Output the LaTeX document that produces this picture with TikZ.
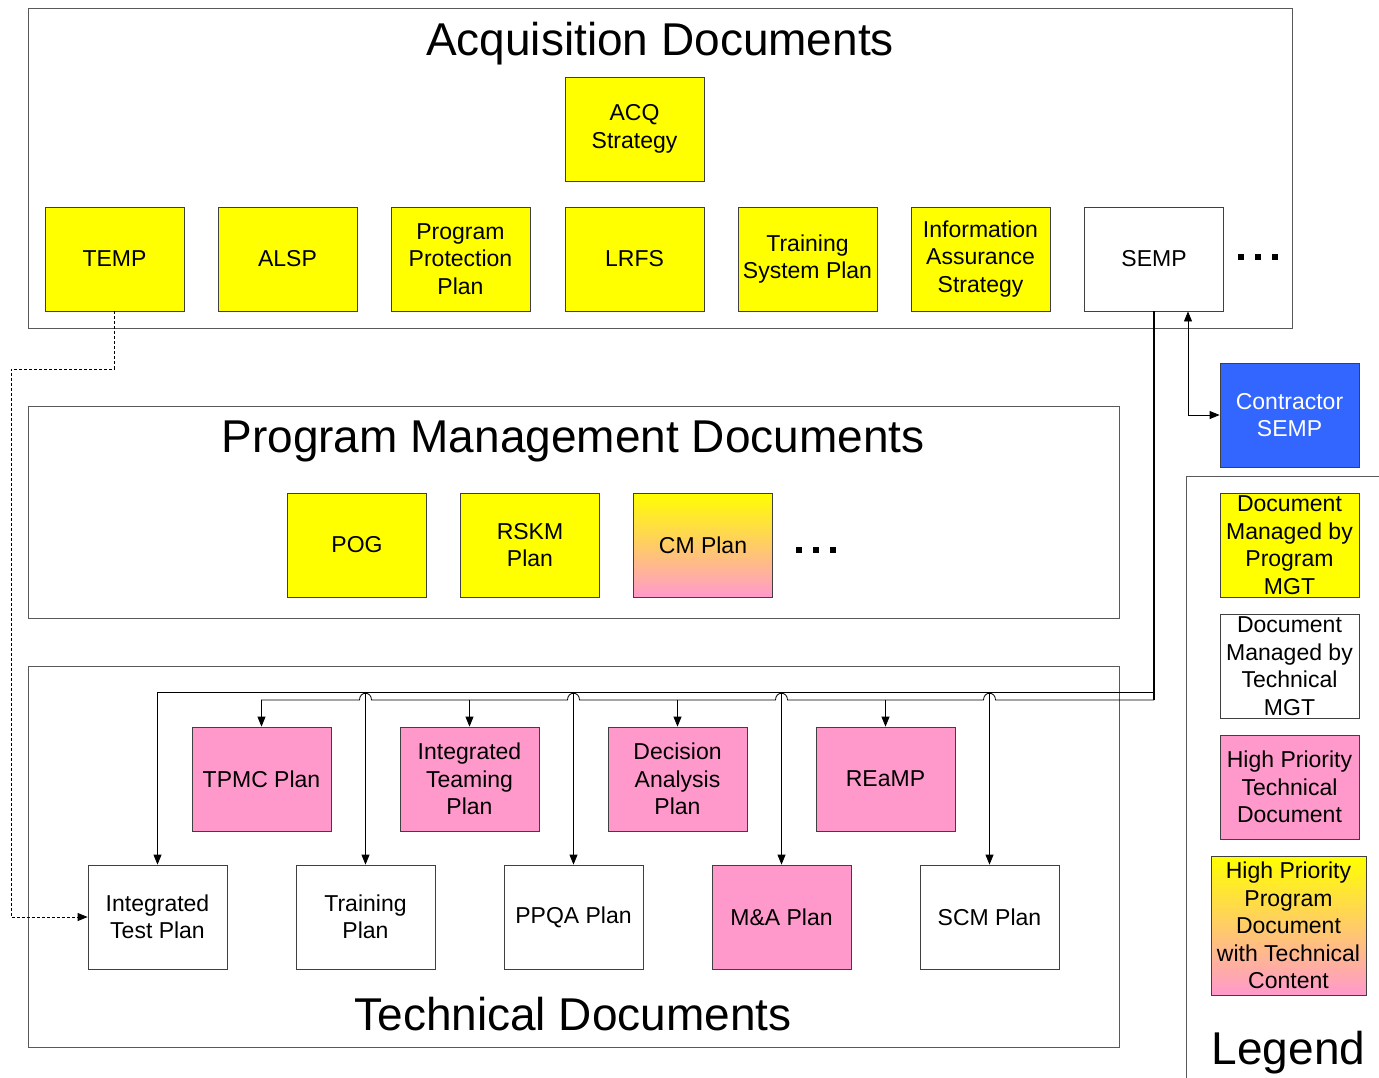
\documentclass[tikz,border=0pt]{standalone}
\usepackage{fontspec}
\setmainfont{Liberation Sans}
\usepackage{tikz}
\usetikzlibrary{arrows.meta, positioning, calc}
\definecolor{docyellow}{RGB}{255,255,0}
\definecolor{docpink}{RGB}{255,153,204}
\definecolor{contractorblue}{RGB}{51,102,255}

\tikzset{
    doc/.style={draw=black!75, line width=0.8pt, minimum width=139pt, minimum height=104pt,
        inner sep=1pt, align=center, font=\fontsize{23}{27.5}\selectfont},
    progdoc/.style={doc, fill=docyellow},
    techdoc/.style={doc, fill=white},
    hidoc/.style={doc, fill=docpink},
    mixdoc/.style={doc, top color=docyellow, bottom color=docpink},
    group/.style={draw=black!65, line width=0.8pt},
    grouptitle/.style={anchor=base, font=\fontsize{46}{50}\selectfont},
    arr/.style={-{Triangle[length=10pt,width=8pt]}, line width=0.8pt}
}

\begin{document}
\begin{tikzpicture}[x=1pt, y=-1pt]
    \useasboundingbox (0,0) rectangle (1379,1077);

    % Acquisition documents
    \draw[group] (28,8) rectangle (1292,328);
    \node[grouptitle] (acqtitle) at (660,55) {Acquisition Documents};
    \node[progdoc] (acq) at (634.5,129) {ACQ\\Strategy};
    \node[progdoc] (temp) at (114.5,259) {TEMP};
    \node[progdoc] (alsp) at (287.5,259) {ALSP};
    \node[progdoc] (ppp) at (460.5,259) {Program\\Protection\\Plan};
    \node[progdoc] (lrfs) at (634.5,259) {LRFS};
    \node[progdoc] (tsp) at (807.5,259) {Training\\System Plan};
    \node[progdoc] (ias) at (980.5,259) {Information\\Assurance\\Strategy};
    \node[techdoc] (semp) at (1154,259) {SEMP};
    \foreach \x in {1241,1258,1275} {
        \fill (\x-3,254) rectangle (\x+3,260);
    }

    % Program management documents
    \draw[group] (28,406) rectangle (1119,618);
    \node[grouptitle] (pmtitle) at (573,452) {Program Management Documents};
    \node[progdoc] (pog) at (357,545) {POG};
    \node[progdoc] (rskm) at (530,545) {RSKM\\Plan};
    \node[mixdoc] (cm) at (703,545) {CM Plan};
    \foreach \x in {799,816,833} {
        \fill (\x-3,547) rectangle (\x+3,553);
    }

    % Technical documents
    \draw[group] (28,666) rectangle (1119,1047);
    \node[grouptitle] (techtitle) at (573,1030) {Technical Documents};
    \node[hidoc] (tpmc) at (261.5,779) {TPMC Plan};
    \node[hidoc] (itm) at (469.5,779) {Integrated\\Teaming\\Plan};
    \node[hidoc] (dap) at (677.5,779) {Decision\\Analysis\\Plan};
    \node[hidoc] (reamp) at (885.5,779) {REaMP};
    \node[techdoc] (itp) at (157.5,917) {Integrated\\Test Plan};
    \node[techdoc] (trp) at (365.5,917) {Training\\Plan};
    \node[techdoc] (ppqa) at (573.5,917) {PPQA Plan};
    \node[hidoc] (ma) at (781.5,917) {M\&A Plan};
    \node[techdoc] (scm) at (989.5,917) {SCM Plan};

    % Contractor SEMP
    \node[doc, fill=contractorblue, text=white] (csemp) at (1289.5,415) {Contractor\\SEMP};

    % Legend
    \draw[group] (1390,476) -- (1186,476) -- (1186,1090);
    \node[progdoc] (lgprog) at (1289.5,545) {Document\\Managed by\\Program\\MGT};
    \node[techdoc] (lgtech) at (1289.5,666) {Document\\Managed by\\Technical\\MGT};
    \node[hidoc] (lghi) at (1289.5,787) {High Priority\\Technical\\Document};
    \node[mixdoc, minimum width=155pt, minimum height=139pt] (lgmix) at (1288.5,925.5)
        {High Priority\\Program\\Document\\with Technical\\Content};
    \node[grouptitle] (lgtitle) at (1288.5,1064) {Legend};

    % connectors
    \coordinate (busout) at (1154,692);
    \coordinate (busin) at (1154,700);
    \draw[line width=2pt] (semp.south) -- (busin);
    \draw[arr] (busout) -- (itp.north |- busout) -- (itp.north);
    \foreach \t in {trp,ppqa,ma,scm} {
        \draw[arr] (\t.north |- busout) -- (\t.north);
    }
    \draw[arr] (busin) foreach \x in {989.5,781.5,573.5,365.5} {
        -- (\x+6,700) .. controls (\x+6,691) and (\x-6,691) .. (\x-6,700)
    } -- (tpmc.north |- busin) -- (tpmc.north);
    \foreach \t in {itm,dap,reamp} {
        \draw[arr] (\t.north |- busin) -- (\t.north);
    }
    \draw[arr, dash pattern=on 3pt off 2pt] (temp.south) -- (114.5,369) -- (11,369)
        -- (11,917) -- (itp.west);
    \draw[arr, {Triangle[length=10pt,width=8pt]}-{Triangle[length=10pt,width=8pt]}]
        (semp.south -| 1188,0) -- (1188,415) -- (csemp.west);
\end{tikzpicture}
\end{document}
